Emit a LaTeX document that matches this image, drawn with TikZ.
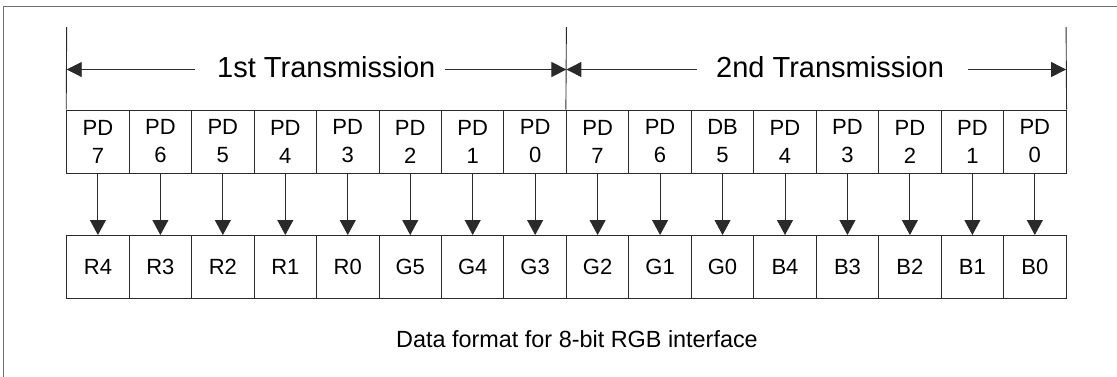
\documentclass[tikz,border=0pt]{standalone}
\usepackage{fontspec}
\setmainfont{Liberation Sans}
\usetikzlibrary{arrows.meta}
\definecolor{linec}{HTML}{2A2A2A}
\definecolor{framec}{HTML}{707070}
\begin{document}
\begin{tikzpicture}[x=1pt,y=-1pt,
  cell/.style={draw=linec, line width=1pt, minimum width=62.46pt, minimum height=63pt,
    inner sep=0pt, font=\fontsize{22}{28}\selectfont, align=center},
  conn/.style={draw=linec, line width=0.9pt, -{Triangle[width=16pt,length=15pt]}},
  dimarrow/.style={draw=linec, line width=0.9pt, -{Triangle[width=15pt,length=15pt]}},
  guide/.style={draw=linec, line width=0.9pt},
  ttl/.style={font=\fontsize{29}{34}\selectfont, inner sep=0pt, anchor=base west},
  framebox/.style={draw=framec, line width=1pt}
]
\useasboundingbox (0,0) rectangle (1117,376);
\clip (0,0) rectangle (1117,376);
\draw[framebox] (3,6) rectangle (1130,390);

% top cells
\foreach [count=\i from 0] \a/\b in {PD/7,PD/6,PD/5,PD/4,PD/3,PD/2,PD/1,PD/0,PD/7,PD/6,DB/5,PD/4,PD/3,PD/2,PD/1,PD/0}
  \node[cell] (p\i) at ({66.7+62.46*(\i+0.5)},141.5) {\a\\\b};
% bottom cells
\foreach [count=\i from 0] \t in {R4,R3,R2,R1,R0,G5,G4,G3,G2,G1,G0,B4,B3,B2,B1,B0}
  \node[cell] (b\i) at ({66.7+62.46*(\i+0.5)},267) {\t};
% connectors
\foreach \i in {0,...,15}
  \draw[conn] (p\i) -- (b\i);

% dimension guides
\coordinate (L) at (66.7,27);
\coordinate (M) at (566.4,27);
\coordinate (R) at (1066.1,27);
\draw[guide] (L) -- (p0.north west);
\draw[guide] (M) -- (p8.north west);
\draw[guide] (R) -- (p15.north east);

\node[ttl] (t1) at (217,77) {1st Transmission};
\node[ttl] (t2) at (716,77) {2nd Transmission};

\coordinate (a1) at (195,69.5);
\coordinate (a2) at (445,69.5);
\coordinate (a3) at (697,69.5);
\coordinate (a4) at (968,69.5);
\draw[dimarrow] (a1) -- (L |- a1);
\draw[dimarrow] (a2) -- (M |- a2);
\draw[dimarrow] (a3) -- (M |- a3);
\draw[dimarrow] (a4) -- (R |- a4);

\node[font=\fontsize{23.4}{28}\selectfont, inner sep=0pt, anchor=base] (cap) at (577,347) {Data format for 8-bit RGB interface};
\end{tikzpicture}
\end{document}
